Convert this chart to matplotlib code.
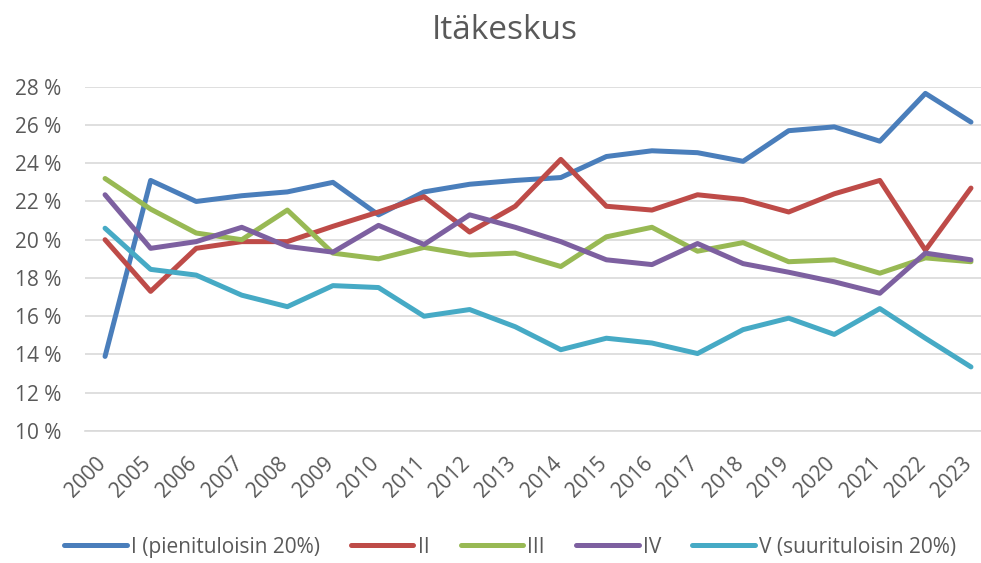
import matplotlib.pyplot as plt
import matplotlib.transforms as mtransforms
from matplotlib.ticker import FuncFormatter

years = ['2000', '2005', '2006', '2007', '2008', '2009', '2010', '2011', '2012', '2013',
         '2014', '2015', '2016', '2017', '2018', '2019', '2020', '2021', '2022', '2023']

q1 = [13.9, 23.1, 22.0, 22.3, 22.5, 23.0, 21.3, 22.5, 22.9, 23.1,
      23.25, 24.35, 24.65, 24.55, 24.1, 25.7, 25.9, 25.15, 27.65, 26.15]
q2 = [20.0, 17.3, 19.55, 19.9, 19.9, 20.7, 21.45, 22.25, 20.4, 21.75,
      24.2, 21.75, 21.55, 22.35, 22.1, 21.45, 22.4, 23.1, 19.45, 22.7]
q3 = [23.2, 21.6, 20.35, 20.0, 21.55, 19.3, 19.0, 19.6, 19.2, 19.3,
      18.6, 20.15, 20.65, 19.4, 19.85, 18.85, 18.95, 18.25, 19.05, 18.85]
q4 = [22.35, 19.55, 19.9, 20.65, 19.65, 19.35, 20.75, 19.75, 21.3, 20.65,
      19.9, 18.95, 18.7, 19.8, 18.75, 18.3, 17.8, 17.2, 19.3, 18.95]
q5 = [20.6, 18.45, 18.15, 17.1, 16.5, 17.6, 17.5, 16.0, 16.35, 15.45,
      14.25, 14.85, 14.6, 14.05, 15.3, 15.9, 15.05, 16.4, 14.85, 13.35]

labels = ['I (pienituloisin 20%)', 'II', 'III', 'IV', 'V (suurituloisin 20%)']
colors = ['#4A7EBB', '#BE4B48', '#98B954', '#7D60A0', '#46AAC5']

plt.rcParams['font.family'] = ['Open Sans', 'DejaVu Sans']

fig = plt.figure(figsize=(9.81, 5.63), dpi=100)
ax = fig.add_axes([85 / 981, 1 - 431 / 563, 896 / 981, (431 - 86.7) / 563])

x = list(range(len(years)))
for vals, lab, col in zip([q1, q2, q3, q4, q5], labels, colors):
    ax.plot(x, vals, color=col, lw=3.6, label=lab, solid_capstyle='round', solid_joinstyle='round')

ax.set_ylim(10, 28)
ax.set_yticks(range(10, 29, 2))
ax.yaxis.set_major_formatter(FuncFormatter(lambda v, p: f'{int(v)} %'))
ax.set_xlim(-0.44, 19.22)
ax.set_xticks(x)
ax.set_xticklabels(years, rotation=45, ha='right')
ax.grid(axis='y', color='#D9D9D9', lw=1.2)
ax.set_axisbelow(True)
for s in ['top', 'right', 'left']:
    ax.spines[s].set_visible(False)
ax.spines['bottom'].set_color('#D9D9D9')
ax.spines['bottom'].set_linewidth(1.2)
ax.tick_params(axis='both', length=0, labelsize=15, colors='#595959')
ax.tick_params(axis='y', pad=17)
ax.tick_params(axis='x', pad=16)
shift = mtransforms.ScaledTranslation(5 / 100, 0, fig.dpi_scale_trans)
for t in ax.get_xticklabels():
    t.set_transform(t.get_transform() + shift)

fig.text(0.515, 0.945, 'Itäkeskus', ha='center', va='center', fontsize=24, color='#595959')

fig.legend(loc='center', bbox_to_anchor=(0.52, 0.028), ncol=5, frameon=False,
           fontsize=15, labelcolor='#595959', handlelength=3.0, columnspacing=1.5,
           handletextpad=0.2)

fig.savefig('out.png', dpi=100)
